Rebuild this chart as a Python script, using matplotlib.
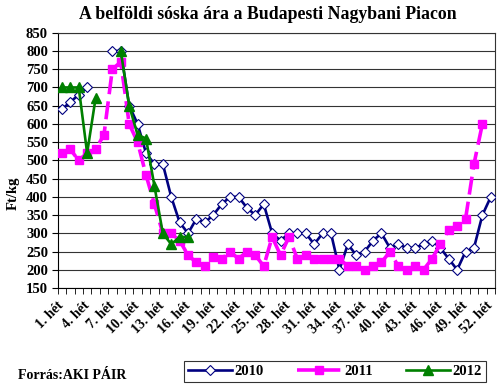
import numpy as np
import matplotlib
matplotlib.use("Agg")
import matplotlib.pyplot as plt

plt.rcParams['font.family'] = ['Liberation Serif', 'DejaVu Serif']
plt.rcParams['font.weight'] = 'bold'

nan = np.nan

# weeks 1..52
weeks = list(range(1, 53))
tick_weeks = weeks[::3]
tick_labels = [f"{w}. hét" for w in tick_weeks]

price_2010 = [640, 660, 680, 700, nan, nan, 800, 800, 650, 600,
              520, 490, 490, 400, 330, 300, 340, 330, 350, 380,
              400, 400, 370, 350, 380, 300, 280, 300, 300, 300,
              270, 300, 300, 200, 270, 240, 250, 280, 300, 260,
              270, 260, 260, 270, 280, 260, 230, 200, 250, 260,
              350, 400]

price_2011 = [520, 530, 500, 520, 530, 570, 750, 770, 600, 550,
              460, 380, 300, 300, 280, 240, 220, 210, 235, 230,
              250, 230, 250, 240, 210, 290, 240, 290, 230, 240,
              230, 230, 230, 230, 210, 210, 200, 210, 220, 250,
              210, 200, 210, 200, 230, 270, 310, 320, 340, 490,
              600, nan]

price_2012 = [700, 700, 700, 520, 670, nan, nan, 800, 650, 570,
              560, 430, 300, 270, 290, 290] + [nan] * 36

fig = plt.figure(figsize=(5.0, 3.9), dpi=100)
ax = fig.add_axes([0.1154, 0.2615, 0.8746, 0.6545])

ax.plot(weeks, price_2010, color='#000080', lw=1.9, marker='D', ms=5,
        mfc='white', mec='#000080', mew=0.8, label='2010', zorder=3)
ax.plot(weeks, price_2011, color='#FF00FF', lw=2.6, ls=(0, (5, 2)), marker='s', ms=5.5,
        mfc='#FF00FF', mec='#FF00FF', label='2011', zorder=4)
ax.plot(weeks, price_2012, color='#008000', lw=1.9, marker='^', ms=6.5,
        mfc='#008000', mec='#008000', label='2012', zorder=5)

ax.set_xlim(0.5, 52.5)
ax.set_ylim(150, 850)
ax.set_yticks(np.arange(150, 851, 50))
ax.yaxis.grid(True, color='#333333', lw=0.8)
ax.set_axisbelow(True)

ax.set_xticks(tick_weeks)
ax.set_xticklabels(tick_labels, rotation=45, ha='right', va='center',
                   rotation_mode='anchor', fontsize=10, fontweight='bold')
ax.set_xticks(np.arange(0.5, 53, 1), minor=True)
ax.tick_params(axis='x', which='major', length=0, pad=11)
ax.tick_params(axis='x', which='minor', length=4, direction='out', color='black')
ax.tick_params(axis='y', length=4, direction='out', labelsize=10.5, pad=3)
for lab in ax.get_yticklabels():
    lab.set_fontweight('bold')

for s in ax.spines.values():
    s.set_color('#333333')
    s.set_linewidth(0.8)
ax.spines['left'].set_color('black')
ax.spines['bottom'].set_color('black')

fig.text(0.536, 0.962, 'A belföldi sóska ára a Budapesti Nagybani Piacon',
         ha='center', va='center', fontsize=12.8, fontweight='bold')
fig.text(0.026, 0.505, 'Ft/kg', rotation=90, ha='center', va='center',
         fontsize=10.5, fontweight='bold')
fig.text(0.036, 0.038, 'Forrás:AKI PÁIR', ha='left', va='center',
         fontsize=10, fontweight='bold')

leg = fig.legend(loc='center', bbox_to_anchor=(0.354, 0.013, 0.632, 0.069),
                 mode='expand', ncol=3, frameon=True, fancybox=False,
                 edgecolor='black', handlelength=3.0, fontsize=10.5,
                 borderpad=0.25, handletextpad=0.2)
leg.get_frame().set_linewidth(0.8)

fig.savefig('out.png', dpi=100)
